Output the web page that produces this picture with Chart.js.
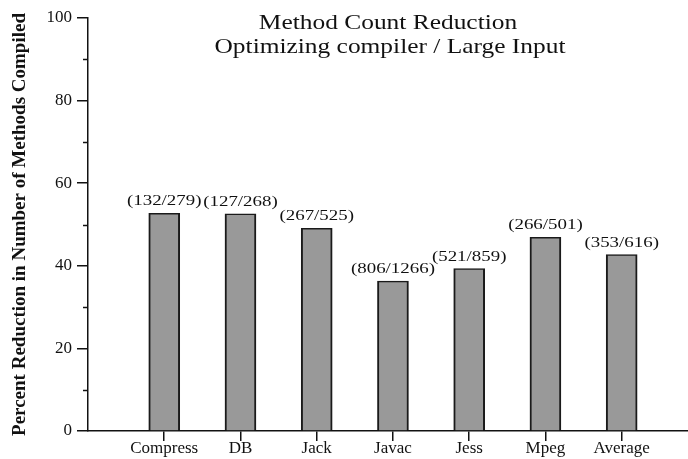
<!DOCTYPE html>
<html>
<head>
<meta charset="utf-8">
<script src="https://cdn.jsdelivr.net/npm/chart.js@4/dist/chart.umd.min.js"></script>
<style>
  html, body { margin: 0; padding: 0; background: #fff; }
  #wrap { width: 688px; height: 459px; position: relative; }
</style>
</head>
<body>
<div id="wrap"><canvas id="grafico"></canvas></div>
<script>
// datos
const categorias = ["Compress", "DB", "Jack", "Javac", "Jess", "Mpeg", "Average"];
const reduccion = [52.7, 52.6, 49.1, 36.3, 39.3, 46.9, 42.7];
const etiquetas = ["(132/279)", "(127/268)", "(267/525)", "(806/1266)", "(521/859)", "(266/501)", "(353/616)"];
const ticksY = [0, 20, 40, 60, 80, 100];
const ticksMenoresY = [10, 30, 50, 70, 90];
const titulo = ["Method Count Reduction", "Optimizing compiler / Large Input"];
const tituloEjeY = "Percent Reduction in Number of Methods Compiled";

const negro = "#111";
const serif = "'Liberation Serif', 'DejaVu Serif', serif";

// texto estirado en horizontal como en la figura original
function textoEstirado(c, txt, x, y, escala) {
  c.save();
  c.translate(x, y);
  c.scale(escala, 1);
  c.fillText(txt, 0, 0);
  c.restore();
}

const extras = {
  id: "extras",
  afterDatasetsDraw(chart) {
    const c = chart.ctx;
    const meta = chart.getDatasetMeta(0);
    c.save();
    c.fillStyle = negro;
    c.font = "15.5px " + serif;
    c.textAlign = "center";
    c.textBaseline = "alphabetic";
    meta.data.forEach((bar, i) => {
      textoEstirado(c, etiquetas[i], bar.x, bar.y - 8, 1.22);
    });
    c.restore();
  },
  afterDraw(chart) {
    const c = chart.ctx;
    const area = chart.chartArea;
    const y = chart.scales.y;
    c.save();
    // ticks menores del eje y
    c.strokeStyle = negro;
    c.lineWidth = 1.5;
    ticksMenoresY.forEach(v => {
      const py = Math.round(y.getPixelForValue(v)) + 0.5;
      c.beginPath();
      c.moveTo(area.left - 5, py);
      c.lineTo(area.left, py);
      c.stroke();
    });
    // titulo
    c.fillStyle = negro;
    c.font = "21px " + serif;
    c.textAlign = "center";
    c.textBaseline = "alphabetic";
    const cx = (area.left + area.right) / 2;
    textoEstirado(c, titulo[0], cx, 29, 1.21);
    textoEstirado(c, titulo[1], cx + 2, 53, 1.21);
    c.restore();
  }
};

const ctx = document.getElementById("grafico");

new Chart(ctx, {
  type: "bar",
  data: {
    datasets: [{
      data: categorias.map((nombre, i) => ({ x: i + 1, y: reduccion[i] })),
      backgroundColor: "#999999",
      borderColor: "#1a1a1a",
      borderWidth: { top: 1.5, left: 2, right: 2, bottom: 0 },
      borderSkipped: false,
      barThickness: 31
    }]
  },
  options: {
    responsive: true,
    maintainAspectRatio: false,
    devicePixelRatio: 1,
    animation: false,
    layout: { padding: { top: 18, left: 0, right: 0, bottom: 0 } },
    plugins: {
      legend: { display: false },
      tooltip: { enabled: false }
    },
    scales: {
      x: {
        type: "linear",
        min: 0,
        max: 7.87,
        offset: false,
        afterBuildTicks: (escala) => {
          escala.ticks = categorias.map((n, i) => ({ value: i + 1 }));
        },
        afterFit: (escala) => { escala.height = 28; },
        grid: {
          offset: false,
          drawOnChartArea: false,
          tickLength: 10,
          color: negro,
          lineWidth: 1.5
        },
        border: { color: negro, width: 1.5 },
        ticks: {
          autoSkip: false,
          maxRotation: 0,
          padding: -3,
          color: negro,
          font: { family: serif, size: 17 },
          callback: (v) => categorias[v - 1] || ""
        }
      },
      y: {
        min: 0,
        max: 100,
        afterBuildTicks: (escala) => {
          escala.ticks = ticksY.map(v => ({ value: v }));
        },
        afterFit: (escala) => { escala.width = 88; },
        grid: {
          drawOnChartArea: false,
          tickLength: 11,
          color: negro,
          lineWidth: 1.5
        },
        border: { color: negro, width: 1.5 },
        ticks: {
          padding: 5,
          color: negro,
          font: { family: serif, size: 17 }
        },
        title: {
          display: true,
          text: tituloEjeY,
          color: negro,
          padding: { top: 9, bottom: 0 },
          font: { family: serif, size: 19, weight: "bold" }
        }
      }
    }
  },
  plugins: [extras]
});
</script>
</body>
</html>
